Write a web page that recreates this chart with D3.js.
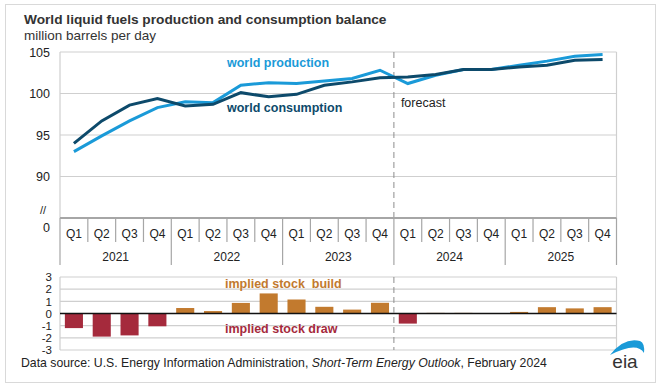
<!DOCTYPE html>
<html>
<head>
<meta charset="utf-8">
<script src="https://cdn.jsdelivr.net/npm/d3@7"></script>
<style>
  body { margin: 0; background: #fff; font-family: "Liberation Sans", Arial, sans-serif; }
  text { fill: #222; }
</style>
</head>
<body>
<script>
// data
const years = ["2021", "2022", "2023", "2024", "2025"]
const quarters = ["Q1", "Q2", "Q3", "Q4"]
const production = [93.0, 94.9, 96.7, 98.3, 99.0, 98.9, 101.0, 101.3, 101.2, 101.5, 101.8, 102.8,
                    101.2, 102.2, 102.9, 102.9, 103.4, 103.9, 104.5, 104.7]
const consumption = [94.0, 96.7, 98.6, 99.4, 98.5, 98.7, 100.1, 99.6, 99.9, 101.0, 101.4, 101.9,
                     102.0, 102.3, 102.9, 102.9, 103.2, 103.4, 104.0, 104.1]
const stockChange = [-1.2, -1.9, -1.8, -1.05, 0.45, 0.2, 0.87, 1.65, 1.15, 0.55, 0.32, 0.88,
                     -0.83, 0.05, 0.05, 0, 0.13, 0.52, 0.42, 0.52]
const mainTicks = [90, 95, 100, 105]
const barTicks = [-3, -2, -1, 0, 1, 2, 3]

const W = 661, H = 387
const left = 60, right = 616.5
const prodColor = "#1a9ad8", consColor = "#0d4a6b"
const buildColor = "#c27a2e", drawColor = "#a52a3c"
const gridColor = "#cfcfcf"

// one key per quarter
const keys = []
years.forEach(function(yr) { quarters.forEach(function(q) { keys.push(yr + " " + q) }) })

const svg = d3.select("body").append("svg")
    .attr("width", W)
    .attr("height", H)

// outer frame
svg.append("rect")
    .attr("x", 5.5).attr("y", 4.5)
    .attr("width", 650).attr("height", 378)
    .attr("fill", "none")
    .attr("stroke", "#d9d9d9")

// titles
svg.append("text")
    .attr("x", 24).attr("y", 24)
    .style("font-size", "13.7px").style("font-weight", "bold")
    .style("fill", "#333")
    .text("World liquid fuels production and consumption balance")
svg.append("text")
    .attr("x", 24).attr("y", 40)
    .style("font-size", "13.5px")
    .style("fill", "#333")
    .text("million barrels per day")

// scales
const x = d3.scaleBand().domain(keys).range([left, right]).padding(0)
const xBar = d3.scaleBand().domain(keys).range([left, right]).paddingInner(0.35).paddingOuter(0.175)
const y = d3.scaleLinear().domain([85, 105]).range([218, 52])
const yBar = d3.scaleLinear().domain([-3, 3]).range([350, 277])
const cx = function(i) { return x(keys[i]) + x.bandwidth() / 2 }

// ---- main chart ----
const main = svg.append("g")

main.selectAll(".grid")
    .data(mainTicks)
    .enter()
    .append("line")
        .attr("x1", left).attr("x2", right)
        .attr("y1", function(d) { return y(d) }).attr("y2", function(d) { return y(d) })
        .attr("stroke", gridColor)
        .attr("stroke-width", 1.2)

// side borders
main.selectAll(".side")
    .data([left, right])
    .enter()
    .append("line")
        .attr("x1", function(d) { return d }).attr("x2", function(d) { return d })
        .attr("y1", y(105)).attr("y2", y(85))
        .attr("stroke", gridColor)
        .attr("stroke-width", 1.2)

// y axis labels
const yAxis = main.append("g")
    .attr("transform", "translate(" + left + ",0)")
    .call(d3.axisLeft(y).tickValues(mainTicks.concat([85])).tickSize(0).tickPadding(10)
        .tickFormat(function(d) { return d === 85 ? "0" : d }))
yAxis.select(".domain").remove()
yAxis.selectAll("text")
    .style("font-size", "12.5px").style("font-family", "Liberation Sans, Arial, sans-serif")
    .style("fill", "#222")
    .attr("dy", function(d) { return d === 85 ? "1.05em" : "0.32em" })
main.append("text")
    .attr("x", 43).attr("y", 214)
    .attr("text-anchor", "middle")
    .style("font-size", "11px")
    .text("//")

// forecast divider
main.append("line")
    .attr("x1", x("2024 Q1")).attr("x2", x("2024 Q1"))
    .attr("y1", y(105)).attr("y2", y(85))
    .attr("stroke", "#8c8c8c")
    .attr("stroke-dasharray", "6,4")
main.append("text")
    .attr("x", x("2024 Q1") + 7).attr("y", 107)
    .style("font-size", "12.5px")
    .text("forecast")

// lines
const line = d3.line()
    .x(function(d, i) { return cx(i) })
    .y(function(d) { return y(d) })
main.append("path")
    .datum(production)
    .attr("d", line)
    .attr("fill", "none")
    .attr("stroke", prodColor)
    .attr("stroke-width", 3)
main.append("path")
    .datum(consumption)
    .attr("d", line)
    .attr("fill", "none")
    .attr("stroke", consColor)
    .attr("stroke-width", 3)

main.append("text")
    .attr("x", 227).attr("y", 67)
    .style("font-size", "12.5px").style("font-weight", "bold")
    .style("fill", prodColor)
    .text("world production")
main.append("text")
    .attr("x", 227).attr("y", 112)
    .style("font-size", "12.5px").style("font-weight", "bold")
    .style("fill", consColor)
    .text("world consumption")

// category axis
const axisY = y(85)
main.append("line")
    .attr("x1", left).attr("x2", right)
    .attr("y1", axisY).attr("y2", axisY)
    .attr("stroke", "#a6a6a6")
    .attr("stroke-width", 2)
main.selectAll(".qsep")
    .data(keys.slice(1))
    .enter()
    .append("line")
        .attr("x1", function(d) { return x(d) }).attr("x2", function(d) { return x(d) })
        .attr("y1", axisY).attr("y2", function(d) { return d.slice(5) === "Q1" ? 265 : 242 })
        .attr("stroke", "#a6a6a6")
        .attr("stroke-width", 1.2)
main.selectAll(".edge")
    .data([left, right])
    .enter()
    .append("line")
        .attr("x1", function(d) { return d }).attr("x2", function(d) { return d })
        .attr("y1", axisY).attr("y2", 265)
        .attr("stroke", "#a6a6a6")
        .attr("stroke-width", 1.2)
main.selectAll(".qlab")
    .data(keys)
    .enter()
    .append("text")
        .attr("x", function(d, i) { return cx(i) })
        .attr("y", 237.5)
        .attr("text-anchor", "middle")
        .style("font-size", "12px")
        .text(function(d) { return d.slice(5) })
main.selectAll(".ylab")
    .data(years)
    .enter()
    .append("text")
        .attr("x", function(d) { return x(d + " Q1") + x.bandwidth() * 2 })
        .attr("y", 261)
        .attr("text-anchor", "middle")
        .style("font-size", "12px")
        .text(function(d) { return d })

// ---- stock change bars ----
const bars = svg.append("g")

bars.selectAll(".bgrid")
    .data(barTicks)
    .enter()
    .append("line")
        .attr("x1", left).attr("x2", right)
        .attr("y1", function(d) { return yBar(d) }).attr("y2", function(d) { return yBar(d) })
        .attr("stroke", gridColor)
        .attr("stroke-width", 1.2)
bars.selectAll(".bside")
    .data([left, right])
    .enter()
    .append("line")
        .attr("x1", function(d) { return d }).attr("x2", function(d) { return d })
        .attr("y1", yBar(3)).attr("y2", yBar(-3))
        .attr("stroke", gridColor)
        .attr("stroke-width", 1.2)

const yBarAxis = bars.append("g")
    .attr("transform", "translate(52,0)")
    .call(d3.axisLeft(yBar).tickValues(barTicks).tickSize(0).tickPadding(0)
        .tickFormat(function(d) { return String(d) }))
yBarAxis.select(".domain").remove()
yBarAxis.selectAll("text")
    .style("font-size", "11.5px").style("font-family", "Liberation Sans, Arial, sans-serif")
    .style("fill", "#222")

bars.selectAll("rect")
    .data(stockChange)
    .enter()
    .append("rect")
        .attr("x", function(d, i) { return xBar(keys[i]) })
        .attr("y", function(d) { return yBar(Math.max(0, d)) })
        .attr("width", xBar.bandwidth())
        .attr("height", function(d) { return Math.abs(yBar(d) - yBar(0)) })
        .attr("fill", function(d) { return d < 0 ? drawColor : buildColor })

bars.append("line")
    .attr("x1", left).attr("x2", right)
    .attr("y1", yBar(0)).attr("y2", yBar(0))
    .attr("stroke", "#111")
    .attr("stroke-width", 1.5)

bars.append("line")
    .attr("x1", x("2024 Q1")).attr("x2", x("2024 Q1"))
    .attr("y1", yBar(3)).attr("y2", yBar(-3))
    .attr("stroke", "#8c8c8c")
    .attr("stroke-dasharray", "6,4")

bars.append("text")
    .attr("x", 225).attr("y", 288)
    .style("font-size", "12.5px").style("font-weight", "bold")
    .style("fill", buildColor)
    .style("white-space", "pre")
    .text("implied stock  build")
bars.append("text")
    .attr("x", 225).attr("y", 333)
    .style("font-size", "12.5px").style("font-weight", "bold")
    .style("fill", drawColor)
    .text("implied stock draw")

// source note
const src = svg.append("text")
    .attr("x", 21).attr("y", 367)
    .style("font-size", "12.25px")
src.append("tspan").text("Data source: U.S. Energy Information Administration, ")
src.append("tspan").style("font-style", "italic").text("Short-Term Energy Outlook")
src.append("tspan").text(", February 2024")

// eia logo
svg.append("path")
    .attr("d", "M610,355 Q624,337 640,341 Q645,343 644,353 Q637,341 610,355 Z")
    .attr("fill", prodColor)
svg.append("text")
    .attr("x", 625).attr("y", 368)
    .attr("text-anchor", "middle")
    .style("font-size", "19px")
    .style("fill", "#333")
    .text("eia")
</script>
</body>
</html>
